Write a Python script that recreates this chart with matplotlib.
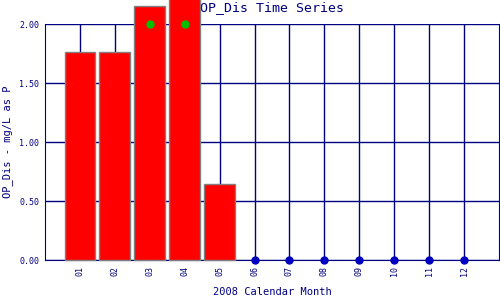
import matplotlib
matplotlib.use("Agg")
import matplotlib.pyplot as plt

# monthly data
bar_months = [1, 2, 3, 4, 5]
bar_values = [1.76, 1.76, 2.15, 2.25, 0.64]
green_months = [3, 4]
green_values = [2.00, 2.00]
zero_months = [6, 7, 8, 9, 10, 11, 12]
zero_values = [0, 0, 0, 0, 0, 0, 0]
tick_labels = ["01", "02", "03", "04", "05", "06", "07", "08", "09", "10", "11", "12"]
yticks = [0.0, 0.5, 1.0, 1.5, 2.0]

navy = "#000080"
plt.rcParams['font.family'] = ['DejaVu Sans Mono']

fig = plt.figure(figsize=(5, 3), dpi=100)
ax = fig.add_axes([0.09, 0.1333, 0.908, 0.7867])

ax.set_xlim(0, 13)
ax.set_ylim(0, 2.0)

for y in yticks:
    ax.axhline(y, color=navy, lw=1, zorder=1)
for m in range(1, 13):
    ax.axvline(m, color=navy, lw=1, zorder=1)

ax.text(6.5, 1.07, "OP_Dis Time Series", transform=ax.get_xaxis_transform(),
        ha="center", va="center", color=navy, fontsize=9.5, zorder=0, clip_on=False)

ax.bar(bar_months, bar_values, width=0.88, color="#ff0000", edgecolor="#808080",
       linewidth=1, zorder=5, clip_on=False)
ax.plot(green_months, green_values, "o", color="#00c000", ms=5, zorder=6, clip_on=False)
ax.plot(zero_months, zero_values, "o", color="#0000c0", ms=5, zorder=6, clip_on=False)

ax.set_xticks(range(1, 13))
ax.set_xticklabels(tick_labels, rotation=90, fontsize=6, color=navy)
ax.set_yticks(yticks)
ax.set_yticklabels(["%.2f" % v for v in yticks], fontsize=6, color=navy)
ax.tick_params(length=0, pad=4)

ax.spines["top"].set_visible(False)
for s in ["left", "bottom", "right"]:
    ax.spines[s].set_color(navy)

fig.text(0.544, 0.027, "2008 Calendar Month", fontsize=7.5, color=navy,
         ha="center", va="center")
fig.text(0.016, 0.527, "OP_Dis - mg/L as P", fontsize=7.5, color=navy,
         ha="center", va="center", rotation=90)

fig.savefig("out.png", dpi=100)
